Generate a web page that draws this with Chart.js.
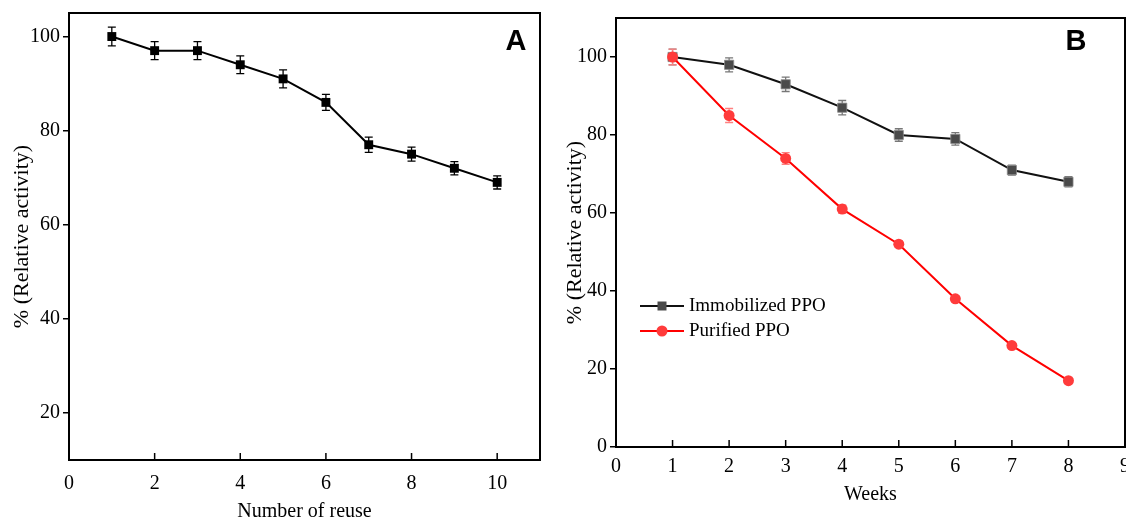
<!DOCTYPE html>
<html>
<head>
<meta charset="utf-8">
<script src="https://cdn.jsdelivr.net/npm/chart.js@4.4.1/dist/chart.umd.min.js"></script>
<style>
  html, body { margin: 0; padding: 0; background: #fff; overflow: hidden; }
  #wrapA { position: absolute; left: 0; top: 0; width: 560px; height: 519px; }
  #wrapB { position: absolute; left: 560px; top: 0; width: 580px; height: 519px; }
</style>
</head>
<body>
<div id="wrapA"><canvas id="chartA"></canvas></div>
<div id="wrapB"><canvas id="chartB"></canvas></div>
<script>
// Panel A: activity after repeated reuse
const reuseCycles   = [1, 2, 3, 4, 5, 6, 7, 8, 9, 10];
const reuseActivity = [100, 97, 97, 94, 91, 86, 77, 75, 72, 69];
const reuseError    = [2, 1.9, 1.9, 1.9, 1.9, 1.7, 1.6, 1.5, 1.4, 1.4];
const reuseXTicks   = [0, 2, 4, 6, 8, 10];
const reuseYTicks   = [20, 40, 60, 80, 100];

// Panel B: storage stability over weeks
const weeks            = [1, 2, 3, 4, 5, 6, 7, 8];
const immobilizedPPO   = [100, 98, 93, 87, 80, 79, 71, 68];
const immobilizedError = [2, 1.8, 1.85, 1.85, 1.6, 1.6, 1.3, 1.3];
const purifiedPPO      = [100, 85, 74, 61, 52, 38, 26, 17];
const purifiedError    = [2, 1.8, 1.5, 1.1, 0.8, 0.8, 0.6, 0.6];
const weekXTicks       = [0, 1, 2, 3, 4, 5, 6, 7, 8, 9];
const weekYTicks       = [0, 20, 40, 60, 80, 100];

const SERIF = '"Liberation Serif", "Times New Roman", serif';
const pts = (xs, ys) => xs.map((x, i) => ({ x, y: ys[i] }));

// Error bars (under the markers), box frame, inward x ticks, panel letter.
const framePlugin = {
  id: "frame",
  beforeDatasetsDraw(chart) {
    const { ctx } = chart, ys = chart.scales.y;
    chart.data.datasets.forEach((ds, i) => {
      if (!ds.errors) return;
      ctx.save();
      ctx.strokeStyle = ds.errorColor; ctx.lineWidth = 1.3;
      chart.getDatasetMeta(i).data.forEach((p, j) => {
        const v = ds.data[j].y, e = ds.errors[j];
        const t = ys.getPixelForValue(v + e), b = ys.getPixelForValue(v - e);
        ctx.beginPath();
        ctx.moveTo(p.x, t); ctx.lineTo(p.x, b);
        ctx.moveTo(p.x - 4, t); ctx.lineTo(p.x + 4, t);
        ctx.moveTo(p.x - 4, b); ctx.lineTo(p.x + 4, b);
        ctx.stroke();
      });
      ctx.restore();
    });
  },
  afterDraw(chart, args, opts) {
    const { ctx, chartArea: a } = chart, xs = chart.scales.x;
    ctx.save();
    ctx.strokeStyle = "#000"; ctx.lineWidth = 2;
    ctx.strokeRect(a.left, a.top, a.right - a.left, a.bottom - a.top);
    ctx.lineWidth = 1.5;
    xs.ticks.forEach(t => {
      const px = xs.getPixelForValue(t.value);
      ctx.beginPath(); ctx.moveTo(px, a.bottom); ctx.lineTo(px, a.bottom - 7); ctx.stroke();
    });
    ctx.fillStyle = "#000";
    ctx.font = 'bold 29px "Liberation Sans", Arial, sans-serif';
    ctx.textAlign = "center"; ctx.textBaseline = "middle";
    ctx.fillText(opts.letter, opts.x, opts.y);
    ctx.restore();
  }
};

// Legend drawn inside panel B's plot area.
const legendPlugin = {
  id: "boxLegend",
  afterDraw(chart, args, opts) {
    if (!opts.items) return;
    const { ctx } = chart;
    ctx.save();
    opts.items.forEach((it, k) => {
      const ds = chart.data.datasets[it], y = opts.y + k * opts.gap;
      ctx.strokeStyle = ds.borderColor; ctx.lineWidth = 2;
      ctx.beginPath(); ctx.moveTo(opts.x, y); ctx.lineTo(opts.x + 44, y); ctx.stroke();
      ctx.fillStyle = ds.pointBackgroundColor;
      ctx.beginPath();
      if (ds.pointStyle === "rect") ctx.rect(opts.x + 22 - 4.5, y - 4.5, 9, 9);
      else ctx.arc(opts.x + 22, y, 5.5, 0, Math.PI * 2);
      ctx.fill();
      ctx.fillStyle = "#000";
      ctx.font = "19px " + SERIF;
      ctx.textAlign = "left"; ctx.textBaseline = "middle";
      ctx.fillText(ds.label, opts.x + 49, y);
    });
    ctx.restore();
  }
};

function scales(f) {
  return {
    x: {
      type: "linear", min: 0, max: f.xMax,
      afterBuildTicks: s => { s.ticks = f.xTicks.map(v => ({ value: v })); },
      afterFit: s => { s.height = f.xHeight; },
      grid: { display: false },
      border: { display: false },
      ticks: { color: "#000", padding: f.xPad, maxRotation: 0, font: { family: SERIF, size: 20 } },
      title: { display: true, text: f.xTitle, color: "#000", padding: { top: 0, bottom: f.xTitlePad }, font: { family: SERIF, size: 20 } }
    },
    y: {
      min: f.yMin, max: f.yMax,
      afterBuildTicks: s => { s.ticks = f.yTicks.map(v => ({ value: v })); },
      afterFit: s => { s.width = f.yWidth; s.paddingTop = 0; s.paddingBottom = 0; },
      grid: { drawOnChartArea: false, drawTicks: true, tickLength: 6, color: "#000", lineWidth: 1.5 },
      border: { display: false },
      ticks: { color: "#000", padding: 3, font: { family: SERIF, size: 20 } },
      title: { display: true, text: "% (Relative activity)", color: "#000", padding: { top: f.yTitlePad, bottom: 0 }, font: { family: SERIF, size: 22 } }
    }
  };
}

new Chart(document.getElementById("chartA"), {
  type: "line",
  data: {
    datasets: [{
      label: "Reuse",
      data: pts(reuseCycles, reuseActivity),
      errors: reuseError, errorColor: "#000",
      borderColor: "#000", borderWidth: 2, tension: 0,
      pointStyle: "rect", pointRadius: 6.3, pointBackgroundColor: "#000", pointBorderWidth: 0
    }]
  },
  options: {
    responsive: true, maintainAspectRatio: false, animation: false, events: [],
    layout: { padding: { top: 13, right: 20, left: 0, bottom: 0 } },
    plugins: { legend: { display: false }, tooltip: { enabled: false },
      frame: { letter: "A", x: 516, y: 42 } },
    scales: scales({ xMax: 11, xTicks: reuseXTicks, yMin: 10, yMax: 105, yTicks: reuseYTicks,
      xHeight: 59, yWidth: 69, xPad: 4, xTitlePad: -5, yTitlePad: 9, xTitle: "Number of reuse" })
  },
  plugins: [framePlugin]
});

new Chart(document.getElementById("chartB"), {
  type: "line",
  data: {
    datasets: [{
      label: "Immobilized PPO", order: 1,
      data: pts(weeks, immobilizedPPO),
      errors: immobilizedError, errorColor: "#777",
      borderColor: "#111", borderWidth: 2, tension: 0,
      pointStyle: "rect", pointRadius: 6.5, pointBackgroundColor: "#4a4a4a",
      pointBorderColor: "#8a8a8a", pointBorderWidth: 0.8
    }, {
      label: "Purified PPO", order: 0,
      data: pts(weeks, purifiedPPO),
      errors: purifiedError, errorColor: "#ff8080",
      borderColor: "#ff0000", borderWidth: 2, tension: 0,
      pointStyle: "circle", pointRadius: 5.5, pointBackgroundColor: "#ff3b3b", pointBorderWidth: 0
    }]
  },
  options: {
    responsive: true, maintainAspectRatio: false, animation: false, events: [],
    layout: { padding: { top: 18, right: 15, left: 0, bottom: 0 } },
    plugins: { legend: { display: false }, tooltip: { enabled: false },
      frame: { letter: "B", x: 516, y: 42 },
      boxLegend: { items: [0, 1], x: 80, y: 306, gap: 25 } },
    scales: scales({ xMax: 9, xTicks: weekXTicks, yMin: 0, yMax: 110, yTicks: weekYTicks,
      xHeight: 72, yWidth: 56, xPad: 0, xTitlePad: 12, yTitlePad: 2, xTitle: "Weeks" })
  },
  plugins: [framePlugin, legendPlugin]
});
</script>
</body>
</html>
